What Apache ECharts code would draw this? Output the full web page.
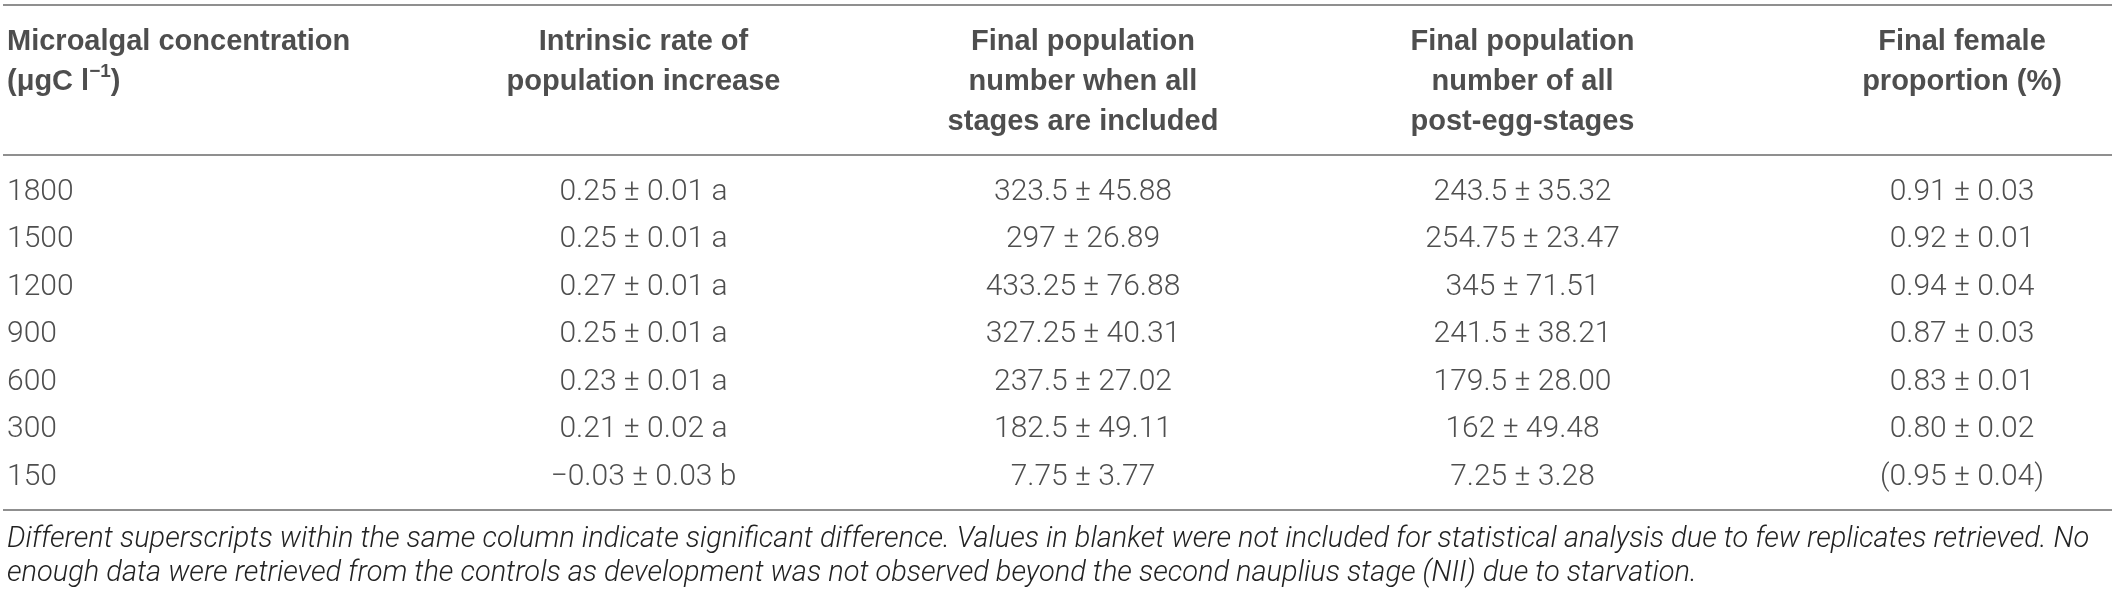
<!DOCTYPE html>
<html>
<head>
<meta charset="utf-8">
<title>Population table</title>
<script src="https://cdn.jsdelivr.net/npm/echarts@6/dist/echarts.min.js"></script>
<style>
  html, body { margin: 0; padding: 0; background: #fff; }
  #main { width: 2117px; height: 597px; }
</style>
</head>
<body>
<div id="main"></div>
<script>
// columns and rows of the table
var columns = ['conc', 'rate', 'total', 'post', 'female'];
var headers = [
    'Microalgal concentration\n(μgC l{sup|−1})',
    'Intrinsic rate of\npopulation increase',
    'Final population\nnumber when all\nstages are included',
    'Final population\nnumber of all\npost-egg-stages',
    'Final female\nproportion (%)'
];
var concentration = ['1800', '1500', '1200', '900', '600', '300', '150'];

// mean ± sd, letters = significance groups
var rateMean = ['0.25', '0.25', '0.27', '0.25', '0.23', '0.21', '−0.03'];
var rateSd = ['0.01', '0.01', '0.01', '0.01', '0.01', '0.02', '0.03'];
var rateGroup = ['a', 'a', 'a', 'a', 'a', 'a', 'b'];
var totalMean = ['323.5', '297', '433.25', '327.25', '237.5', '182.5', '7.75'];
var totalSd = ['45.88', '26.89', '76.88', '40.31', '27.02', '49.11', '3.77'];
var postMean = ['243.5', '254.75', '345', '241.5', '179.5', '162', '7.25'];
var postSd = ['35.32', '23.47', '71.51', '38.21', '28.00', '49.48', '3.28'];
var femaleMean = ['0.91', '0.92', '0.94', '0.87', '0.83', '0.80', '0.95'];
var femaleSd = ['0.03', '0.01', '0.04', '0.03', '0.01', '0.02', '0.04'];
var femaleExcluded = [false, false, false, false, false, false, true];

var footnote = 'Different superscripts within the same column indicate significant difference. Values in blanket were not included for statistical analysis due to few replicates retrieved. No\n' +
    'enough data were retrieved from the controls as development was not observed beyond the second nauplius stage (NII) due to starvation.';

var textColor = '#222';
var ruleColor = '#8f8f8f';
var bodyFont = 'Roboto';
var headFont = '"Liberation Sans", Arial, sans-serif';

// build the cells
var firstCol = [];
var bodyCells = [];
concentration.forEach(function (c, i) {
    firstCol.push([columns[0], c, c]);
    bodyCells.push([columns[1], c, rateMean[i] + ' ± ' + rateSd[i] + ' ' + rateGroup[i]]);
    bodyCells.push([columns[2], c, totalMean[i] + ' ± ' + totalSd[i]]);
    bodyCells.push([columns[3], c, postMean[i] + ' ± ' + postSd[i]]);
    var f = femaleMean[i] + ' ± ' + femaleSd[i];
    bodyCells.push([columns[4], c, femaleExcluded[i] ? '(' + f + ')' : f]);
});
var headFirst = [[columns[0], 'head', headers[0]]];
var headCells = [];
for (var k = 1; k < columns.length; k++) {
    headCells.push([columns[k], 'head', headers[k]]);
}

var myChart = echarts.init(document.getElementById('main'));

var bodyLabel = {
    show: true,
    position: 'inside',
    formatter: function (p) { return p.value[2]; },
    fontFamily: bodyFont,
    fontWeight: 300,
    fontSize: 30,
    color: textColor,
    align: 'center',
    verticalAlign: 'middle'
};
var headLabel = {
    show: true,
    position: 'inside',
    formatter: function (p) { return p.value[2]; },
    fontFamily: headFont,
    fontWeight: 'bold',
    fontSize: 29,
    lineHeight: 40,
    color: textColor,
    align: 'center',
    verticalAlign: 'top',
    rich: {
        sup: {
            fontFamily: headFont,
            fontWeight: 'bold',
            fontSize: 19,
            lineHeight: 20,
            verticalAlign: 'top',
            color: textColor
        }
    }
};

option = {
    backgroundColor: '#fff',
    animation: false,
    grid: [
        {left: 204, right: 155, top: 192, bottom: 120},  // body rows
        {left: 204, right: 155, top: 2, height: 40}      // header row
    ],
    xAxis: [
        {type: 'category', gridIndex: 0, data: columns, boundaryGap: false, show: false},
        {type: 'category', gridIndex: 1, data: columns, boundaryGap: false, show: false}
    ],
    yAxis: [
        {type: 'category', gridIndex: 0, data: concentration, inverse: true, boundaryGap: false, show: false},
        {type: 'category', gridIndex: 1, data: ['head'], show: false}
    ],
    series: [
        {
            type: 'scatter', xAxisIndex: 0, yAxisIndex: 0,
            symbolSize: 0, silent: true,
            data: bodyCells,
            label: bodyLabel
        },
        {
            type: 'scatter', xAxisIndex: 0, yAxisIndex: 0,
            symbolSize: 0, silent: true,
            data: firstCol,
            label: echarts.util.extend(echarts.util.clone(bodyLabel), {align: 'left', offset: [-197, 0]})
        },
        {
            type: 'scatter', xAxisIndex: 1, yAxisIndex: 1,
            symbolSize: 0, silent: true,
            data: headCells,
            label: headLabel
        },
        {
            type: 'scatter', xAxisIndex: 1, yAxisIndex: 1,
            symbolSize: 0, silent: true,
            data: headFirst,
            label: echarts.util.extend(echarts.util.clone(headLabel), {align: 'left', offset: [-197, 0]})
        }
    ],
    graphic: [
        // table rules
        {type: 'line', shape: {x1: 3, y1: 5, x2: 2112, y2: 5}, style: {stroke: ruleColor, lineWidth: 2}},
        {type: 'line', shape: {x1: 3, y1: 155, x2: 2112, y2: 155}, style: {stroke: ruleColor, lineWidth: 2}},
        {type: 'line', shape: {x1: 3, y1: 510, x2: 2112, y2: 510}, style: {stroke: ruleColor, lineWidth: 2}},
        {
            type: 'text', left: 7, top: 523,
            style: {
                text: footnote,
                fill: textColor,
                fontFamily: bodyFont,
                fontStyle: 'italic',
                fontWeight: 300,
                fontSize: 29,
                lineHeight: 34
            }
        }
    ]
};

myChart.setOption(option);
</script>
</body>
</html>
